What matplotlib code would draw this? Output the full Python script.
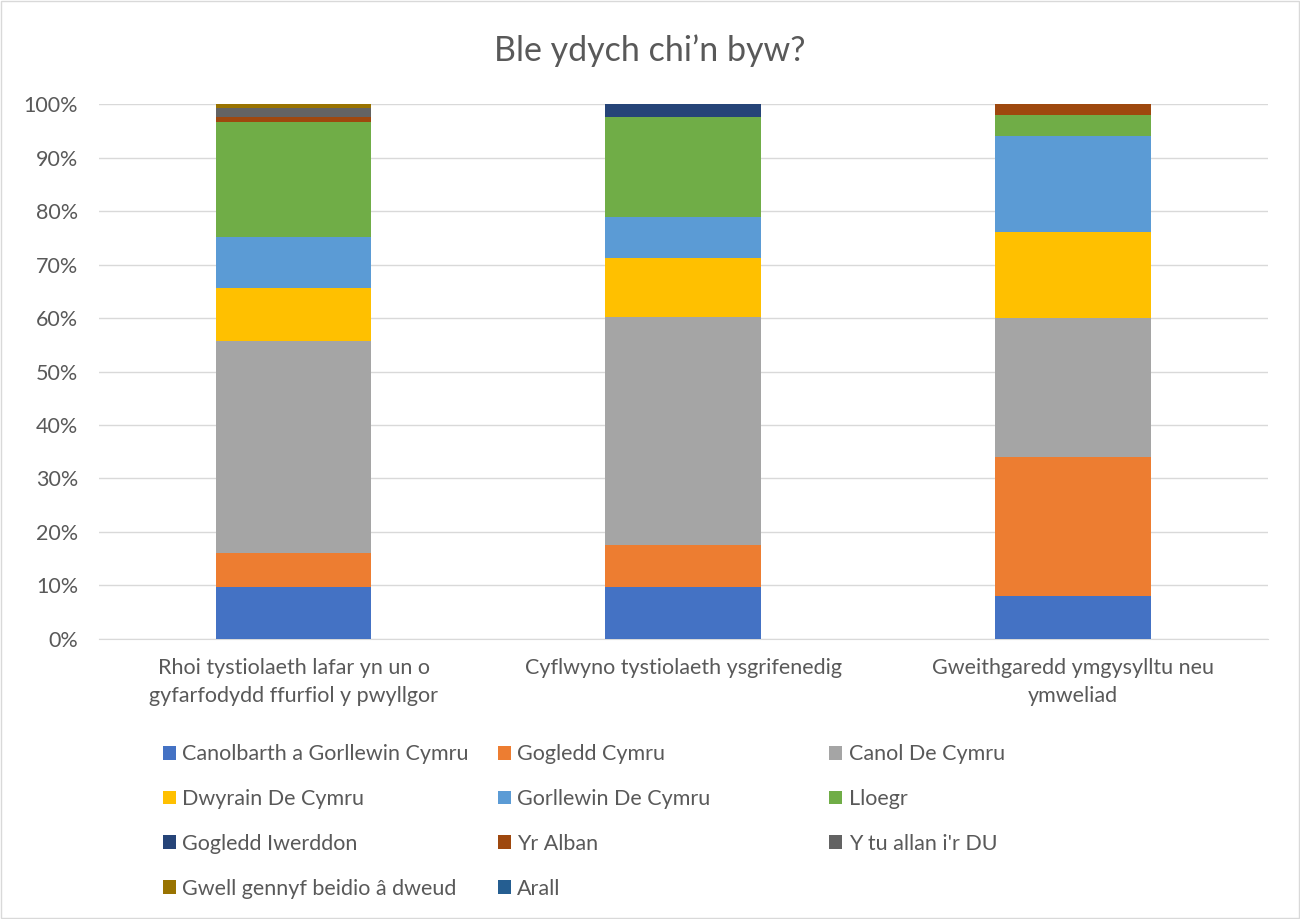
import numpy as np
import matplotlib.pyplot as plt
from matplotlib.patches import Rectangle

plt.rcParams['font.family'] = ['Lato', 'DejaVu Sans']

# Categories (x axis)
categories = ['Rhoi tystiolaeth lafar yn un o\ngyfarfodydd ffurfiol y pwyllgor',
              'Cyflwyno tystiolaeth ysgrifenedig',
              'Gweithgaredd ymgysylltu neu\nymweliad']

# Series (percent of respondents)
series_names = ['Canolbarth a Gorllewin Cymru', 'Gogledd Cymru', 'Canol De Cymru',
                'Dwyrain De Cymru', 'Gorllewin De Cymru', 'Lloegr',
                'Gogledd Iwerddon', 'Yr Alban', "Y tu allan i'r DU",
                'Gwell gennyf beidio â dweud', 'Arall']
canolbarth = [9.8, 9.8, 8.0]
gogledd = [6.2, 7.8, 26.0]
canol_de = [39.7, 42.6, 26.0]
dwyrain_de = [10.0, 11.0, 16.0]
gorllewin_de = [9.5, 7.7, 18.0]
lloegr = [21.5, 18.7, 4.0]
gogledd_iwerddon = [0.0, 2.4, 0.0]
yr_alban = [0.8, 0.0, 2.0]
tu_allan = [1.7, 0.0, 0.0]
gwell_gennyf = [0.8, 0.0, 0.0]
arall = [0.0, 0.0, 0.0]

values = [canolbarth, gogledd, canol_de, dwyrain_de, gorllewin_de, lloegr,
          gogledd_iwerddon, yr_alban, tu_allan, gwell_gennyf, arall]
colors = ['#4472C4', '#ED7D31', '#A5A5A5', '#FFC000', '#5B9BD5', '#70AD47',
          '#264478', '#9E480E', '#636363', '#997300', '#255E91']

text_col = '#595959'

fig = plt.figure(figsize=(13, 9.19), dpi=100)
ax = fig.add_axes([0.076, 0.3047, 0.899, 0.5821])

x = np.arange(len(categories))
bottom = np.zeros(len(categories))
handles = []
for name, vals, c in zip(series_names, values, colors):
    vals = np.array(vals) / 100.0
    h = ax.bar(x, vals, 0.4, bottom=bottom, color=c, label=name, linewidth=0, zorder=3)
    handles.append(h)
    bottom += vals

ax.set_xlim(-0.5, 2.5)
ax.set_ylim(0, 1)
ax.set_yticks(np.arange(0, 1.01, 0.1))
ax.set_yticklabels([f'{int(round(v * 100))}%' for v in np.arange(0, 1.01, 0.1)])
ax.set_xticks(x)
ax.set_xticklabels(categories, linespacing=1.45)
ax.tick_params(axis='both', length=0, labelsize=15.5, labelcolor=text_col)
ax.tick_params(axis='y', pad=15)
ax.tick_params(axis='x', pad=14)
ax.grid(axis='y', color='#D9D9D9', linewidth=1, zorder=0)
for s in ['top', 'right', 'left']:
    ax.spines[s].set_visible(False)
ax.spines['bottom'].set_color('#D9D9D9')

fig.text(0.5, 0.945, 'Ble ydych chi’n byw?', ha='center', va='center',
         fontsize=24.5, color=text_col)

# legend laid out row-wise in three fixed columns, like the original
col_x = [0.1254, 0.383, 0.638]
for ci in range(3):
    idx = list(range(ci, len(series_names), 3))
    leg = fig.legend([handles[i] for i in idx], [series_names[i] for i in idx],
                     loc='upper left', bbox_to_anchor=(col_x[ci], 0.190),
                     frameon=False, fontsize=15.5, labelspacing=1.15,
                     handlelength=0.6, handleheight=0.6, handletextpad=0.3,
                     borderpad=0, borderaxespad=0, labelcolor=text_col)

fig.patches.append(Rectangle((0.001, 0.001), 0.998, 0.998, transform=fig.transFigure,
                             fill=False, edgecolor='#D9D9D9', linewidth=1))

fig.savefig('out.png', dpi=100)
